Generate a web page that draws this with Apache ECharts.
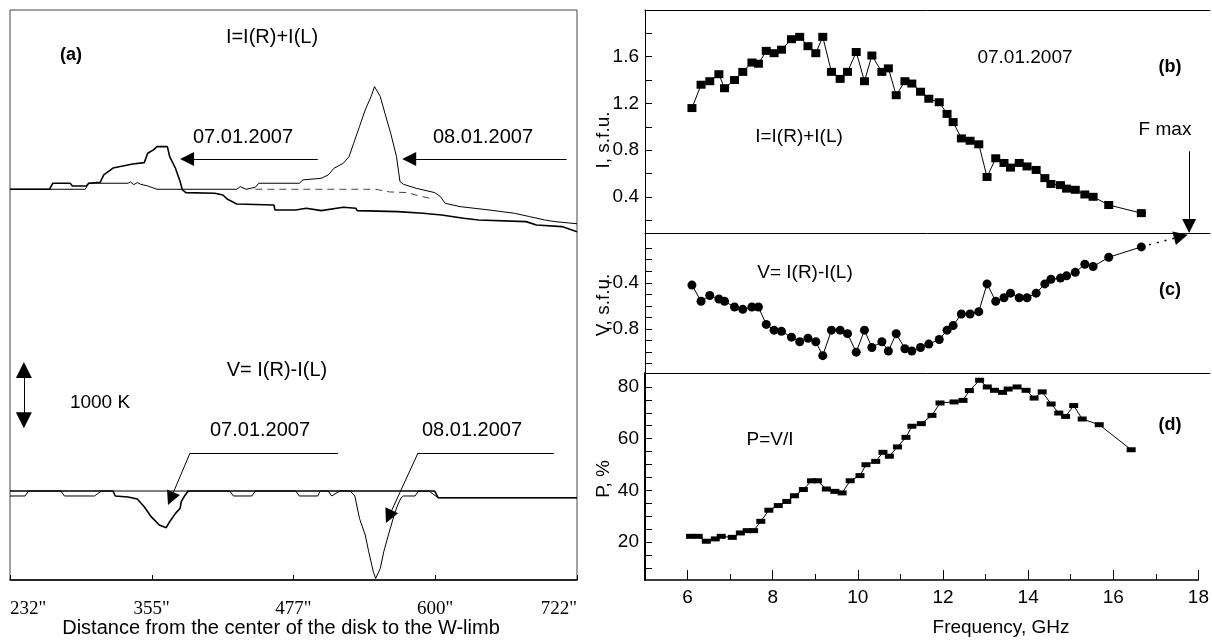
<!DOCTYPE html>
<html><head><meta charset="utf-8">
<script src="https://cdn.jsdelivr.net/npm/echarts@6/dist/echarts.min.js"></script>
<style>html,body{margin:0;padding:0;background:#fff}#c{width:1212px;height:642px}</style>
</head><body><div id="c"></div>
<script>
// ---------- Panel (a): scans vs distance (arcsec), brightness temperature offsets (K)
const distTicks = [232, 354.5, 477, 599.5, 722];
const distTickLabels = ['232"', '355"', '477"', '600"', '722"'];

const posI07 = [232,266,269,284,286,298,300,310,313,321,338,348,351,356,359,368,370,375,379,381,384,409,416,420,428,460,461,479,488,501,520,531,532,567,589,605,624,637,678,687,709,722];
const tbI07  = [0,0,91,91,50,50,91,106,216,320,382,402,543,594,644,644,493,317,116,-10,-50,-60,-86,-151,-221,-236,-312,-312,-287,-322,-272,-287,-322,-337,-362,-387,-438,-463,-488,-538,-563,-640];

const posI08 = [232,297,300,334,336,339,342,345,351,359,428,431,436,444,447,482,485,501,507,512,520,525,529,534,539,544,547,548,552,556,561,566,569,572,583,599,604,608,621,646,668,681,694,703,722];
const tbI08  = [0,0,91,91,111,70,101,75,50,0,0,40,0,30,91,91,141,166,216,317,392,493,694,946,1197,1398,1549,1574,1398,1147,845,493,116,75,15,-50,-111,-211,-262,-312,-362,-412,-463,-488,-520];

const posBase = [444,548,560,575,588,596];
const tbBase  = [0,0,-40,-50,-110,-140];

const posV07 = [232,321,323,334,342,348,354,361,367,370,375,379,380,383,386,599,602,722];
const tbV07  = [0,0,-75,-91,-121,-236,-387,-513,-553,-463,-337,-262,-161,-70,0,0,-101,-101];

const posV08 = [232,245,248,276,279,305,311,422,425,441,444,479,482,498,500,507,510,517,526,530,534,539,542,546,548,552,555,559,564,567,570,572,582,585,594,602,722];
const tbV08  = [-75,-75,0,0,-75,-75,0,0,-75,-75,0,0,-75,-75,0,0,-75,0,0,-75,-412,-664,-915,-1217,-1318,-1167,-915,-664,-362,-211,-101,-75,-75,0,0,-101,-101];

// ---------- Panels (b),(c),(d): spectra vs frequency (GHz)
const freqBC = [6.08,6.29,6.49,6.70,6.83,7.06,7.25,7.46,7.61,7.79,7.97,8.14,8.37,8.56,8.75,8.93,9.09,9.29,9.49,9.66,9.86,10.05,10.22,10.45,10.60,10.78,10.98,11.14,11.34,11.53,11.77,11.95,12.09,12.28,12.48,12.68,12.87,13.07,13.26,13.41,13.61,13.79,14.00,14.20,14.34,14.56,14.70,14.90,15.12,15.31,15.67,16.42];
const fluxI = [1.16,1.36,1.39,1.45,1.33,1.40,1.47,1.55,1.54,1.65,1.63,1.66,1.75,1.77,1.69,1.63,1.77,1.47,1.41,1.47,1.64,1.39,1.61,1.47,1.50,1.27,1.39,1.37,1.30,1.24,1.21,1.11,1.04,0.90,0.88,0.85,0.57,0.73,0.69,0.65,0.69,0.66,0.63,0.56,0.51,0.50,0.47,0.46,0.42,0.40,0.33,0.26];
const fluxV = [-0.42,-0.56,-0.51,-0.54,-0.56,-0.61,-0.63,-0.61,-0.61,-0.76,-0.81,-0.82,-0.87,-0.91,-0.88,-0.91,-1.03,-0.81,-0.81,-0.84,-1.00,-0.81,-0.96,-0.91,-0.99,-0.84,-0.97,-0.99,-0.96,-0.93,-0.89,-0.81,-0.77,-0.67,-0.67,-0.65,-0.41,-0.56,-0.53,-0.49,-0.53,-0.53,-0.49,-0.41,-0.37,-0.36,-0.34,-0.31,-0.24,-0.26,-0.18,-0.09];
const freqD = [6.07,6.25,6.44,6.65,6.79,7.05,7.24,7.40,7.55,7.72,7.91,8.13,8.33,8.51,8.72,8.91,9.05,9.26,9.46,9.63,9.82,10.05,10.19,10.42,10.59,10.74,10.93,11.13,11.27,11.49,11.74,11.93,12.26,12.47,12.62,12.86,13.04,13.21,13.40,13.53,13.74,13.95,14.14,14.33,14.54,14.72,14.88,15.07,15.27,15.67,16.42];
const polP = [22.2,22.2,20.3,21.2,22.2,21.8,23.5,24.4,24.4,28.0,32.3,34.1,35.7,37.9,40.3,43.7,43.7,40.5,39.6,39.0,43.7,45.7,49.9,51.2,54.7,53.2,56.8,60.5,64.8,65.8,69.0,73.8,74.2,74.8,78.6,82.6,80.0,78.7,77.9,79.2,80.0,78.7,75.7,78.1,73.4,69.9,68.6,72.8,67.6,65.4,55.7];

const freqMajor = [6,8,10,12,14,16,18];
const freqMinor = [7,9,11,13,15,17];
const iTicks = [0.2,0.4,0.6,0.8,1.0,1.2,1.4,1.6,1.8];
const iLabels = [0.4,0.8,1.2,1.6];
const vTicks = [-1.1,-1.0,-0.9,-0.8,-0.7,-0.6,-0.5,-0.4,-0.3,-0.2,-0.1];
const vLabels = [-0.8,-0.4];
const pTicks = [10,15,20,25,30,35,40,45,50,55,60,65,70,75,80];
const pLabels = [20,40,60,80];

const zip = (a, b) => a.map((v, i) => [v, b[i]]);
const SANS = 'Liberation Sans, Arial, sans-serif';
const BLACK = '#000';

const chart = echarts.init(document.getElementById('c'), null, {renderer: 'canvas'});

const lineAxis = (grid, pos) => ({
  gridIndex: grid, type: 'value', position: pos, min: 5, max: 18,
  axisLine: {show: true, onZero: false, lineStyle: {color: BLACK, width: 1}},
  axisTick: {show: false}, axisLabel: {show: false}, splitLine: {show: false}
});

const yRight = (grid, min, max, ticks, labels, lw, dec) => ({
  gridIndex: grid, type: 'value', min: min, max: max,
  axisLine: {show: true, onZero: false, lineStyle: {color: BLACK, width: lw}},
  axisTick: {show: true, inside: true, length: 7, customValues: ticks, lineStyle: {color: BLACK}},
  axisLabel: {show: true, customValues: labels, color: BLACK, fontFamily: SANS, fontSize: 19, margin: 6,
    formatter: v => Number(v).toFixed(dec)},
  splitLine: {show: false}
});

const arrowLine = (p1, p2, opts) => {
  opts = opts || {};
  return [
    Object.assign({coord: p1, symbol: opts.s1 || 'none', symbolSize: opts.size || 14,
      lineStyle: {color: BLACK, width: opts.w || 1, type: opts.type || 'solid'}}),
    {coord: p2, symbol: opts.s2 || 'triangle', symbolSize: opts.size || 14}
  ];
};
const mlBase = {silent: true, animation: false, label: {show: false}, emphasis: {disabled: true},
  lineStyle: {color: BLACK, width: 1, type: 'solid'}, itemStyle: {color: BLACK}, precision: 4};

const txt = (s, x, y, size, bold, family, rot) => ({
  type: 'text', x: x, y: y, rotation: rot || 0, silent: true,
  style: {text: s, fill: BLACK, font: (bold ? 'bold ' : '') + size + 'px ' + (family || SANS),
    textAlign: 'center', textVerticalAlign: 'middle'}
});

const option = {
  animation: false,
  backgroundColor: '#fff',
  grid: [
    {left: 10, top: 10, width: 567, height: 570, show: true, borderColor: '#444', borderWidth: 1, backgroundColor: 'transparent'},
    {left: 645, top: 10, width: 565, height: 223},
    {left: 645, top: 233, width: 565, height: 140},
    {left: 645, top: 373, width: 565, height: 207}
  ],
  xAxis: [
    {gridIndex: 0, type: 'value', min: 232, max: 722, interval: 122.5,
      axisLine: {show: true, onZero: false, lineStyle: {color: BLACK, width: 1.5}},
      axisTick: {show: true, inside: true, length: 5, lineStyle: {color: BLACK}},
      axisLabel: {show: true, color: BLACK, fontFamily: 'Liberation Serif, Times New Roman, serif', fontSize: 19, margin: 20,
        alignMinLabel: 'left', alignMaxLabel: 'right',
        formatter: v => { const i = distTicks.findIndex(t => Math.abs(t - v) < 0.01); return i >= 0 ? distTickLabels[i] : ''; }},
      splitLine: {show: false}},
    lineAxis(1, 'top'),
    lineAxis(1, 'bottom'),
    lineAxis(2, 'bottom'),
    {gridIndex: 3, type: 'value', position: 'bottom', min: 5, max: 18,
      axisLine: {show: true, onZero: false, lineStyle: {color: BLACK, width: 1.5}},
      axisTick: {show: true, inside: true, length: 10, customValues: freqMajor, lineStyle: {color: BLACK}},
      axisLabel: {show: true, customValues: freqMajor, color: BLACK, fontFamily: SANS, fontSize: 19, margin: 8},
      splitLine: {show: false}},
    {gridIndex: 3, type: 'value', position: 'bottom', min: 5, max: 18,
      axisLine: {show: false},
      axisTick: {show: true, inside: true, length: 6, customValues: freqMinor, lineStyle: {color: BLACK}},
      axisLabel: {show: false}, splitLine: {show: false}}
  ],
  yAxis: [
    {gridIndex: 0, type: 'value', min: -5893, max: 2704, show: false},
    {gridIndex: 0, type: 'value', min: -1342, max: 7255, show: false},
    yRight(1, 0.09, 2.0, iTicks, iLabels, 1, 1),
    yRight(2, -1.18, 0.03, vTicks, vLabels, 1, 1),
    yRight(3, 5.3, 85.4, pTicks, pLabels, 2, 0)
  ],
  series: [
    {type: 'line', xAxisIndex: 0, yAxisIndex: 0, data: zip(posI07, tbI07), showSymbol: false, silent: true,
      lineStyle: {color: BLACK, width: 1.6},
      markLine: Object.assign({}, mlBase, {data: [
        arrowLine([498, 457], [385, 457], {size: 14}),
        arrowLine([713, 457], [577, 457], {size: 14})
      ]})},
    {type: 'line', xAxisIndex: 0, yAxisIndex: 0, data: zip(posI08, tbI08), showSymbol: false, silent: true,
      lineStyle: {color: BLACK, width: 1}},
    {type: 'line', xAxisIndex: 0, yAxisIndex: 0, data: zip(posBase, tbBase), showSymbol: false, silent: true,
      lineStyle: {color: '#444', width: 1, type: [7, 5]}},
    {type: 'line', xAxisIndex: 0, yAxisIndex: 1, data: zip(posV07, tbV07), showSymbol: false, silent: true,
      lineStyle: {color: BLACK, width: 1.6},
      markLine: Object.assign({}, mlBase, {data: [
        arrowLine([515.5, 573], [387.6, 573], {s2: 'none'}),
        arrowLine([387.6, 573], [370.9, -115], {size: 14}),
        arrowLine([702, 573], [584.6, 573], {s2: 'none'}),
        arrowLine([584.6, 573], [559.4, -386], {size: 14}),
        arrowLine([244, 1825], [244, 1067], {s1: 'triangle', size: 16})
      ]})},
    {type: 'line', xAxisIndex: 0, yAxisIndex: 1, data: zip(posV08, tbV08), showSymbol: false, silent: true,
      lineStyle: {color: BLACK, width: 1}},
    {type: 'line', xAxisIndex: 2, yAxisIndex: 2, data: zip(freqBC, fluxI), silent: true,
      symbol: 'rect', symbolSize: [9, 8], itemStyle: {color: BLACK}, lineStyle: {color: BLACK, width: 1},
      markLine: Object.assign({}, mlBase, {data: [
        arrowLine([17.52, 0.79], [17.52, 0.15], {size: 14})
      ]})},
    {type: 'line', xAxisIndex: 3, yAxisIndex: 3, data: zip(freqBC, fluxV), silent: true,
      symbol: 'circle', symbolSize: 9, itemStyle: {color: BLACK}, lineStyle: {color: BLACK, width: 1},
      markLine: Object.assign({}, mlBase, {data: [
        arrowLine([16.42, -0.09], [17.33, 0.0], {size: 14, type: [2, 6], w: 1.5})
      ]})},
    {type: 'line', xAxisIndex: 4, yAxisIndex: 4, data: zip(freqD, polP), silent: true,
      symbol: 'rect', symbolSize: [9, 5], itemStyle: {color: BLACK}, lineStyle: {color: BLACK, width: 1}}
  ],
  graphic: [
    txt('(a)', 71, 55, 18, true),
    txt('I=I(R)+I(L)', 272, 37, 20),
    txt('07.01.2007', 243, 137, 20),
    txt('08.01.2007', 483, 137, 20),
    txt('V= I(R)-I(L)', 277, 370, 20),
    txt('1000 K', 100, 403, 19),
    txt('07.01.2007', 260, 430, 20),
    txt('08.01.2007', 472, 430, 20),
    txt('Distance from the center of the disk to the W-limb', 281, 628, 20),
    txt('07.01.2007', 1025, 58, 19),
    txt('(b)', 1170, 67, 18, true),
    txt('I=I(R)+I(L)', 799, 137, 19),
    txt('F max', 1165, 130, 19),
    txt('V= I(R)-I(L)', 805, 273, 19),
    txt('(c)', 1170, 290, 18, true),
    txt('P=V/I', 770, 440, 19),
    txt('(d)', 1170, 425, 18, true),
    txt('Frequency, GHz', 1001, 628, 19),
    txt('I, s.f.u.', 604, 140, 19, false, SANS, Math.PI / 2),
    txt('V, s.f.u.', 604, 305, 19, false, SANS, Math.PI / 2),
    txt('P, %', 604, 479, 19, false, SANS, Math.PI / 2)
  ]
};
chart.setOption(option);
</script></body></html>
